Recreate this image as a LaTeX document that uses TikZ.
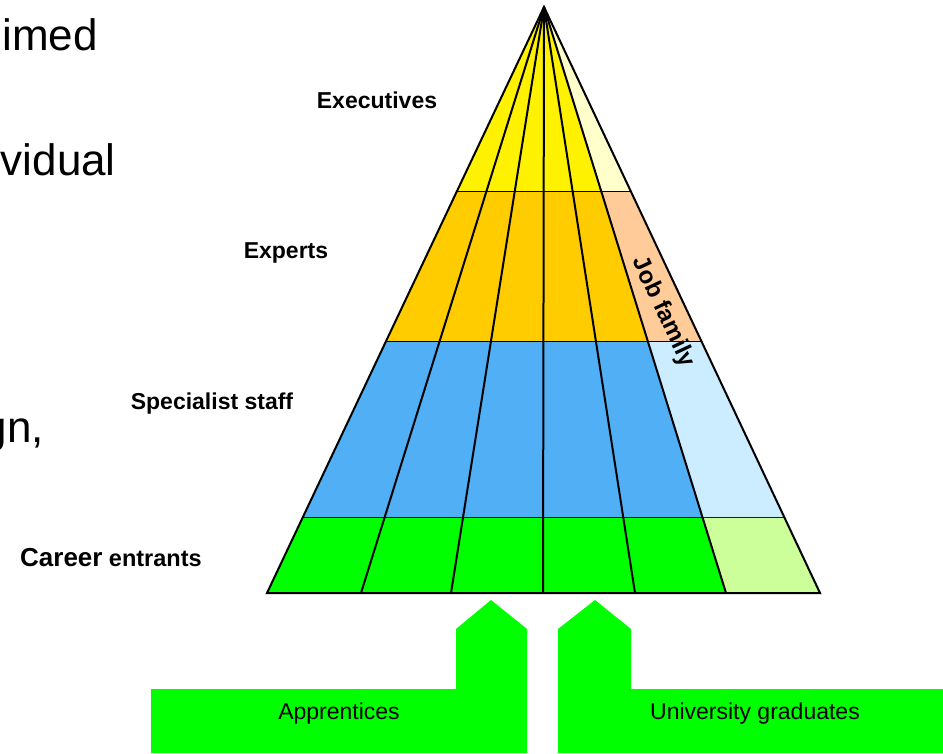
\documentclass[tikz,border=0pt]{standalone}
\usepackage{amsmath}
\usepackage{fontspec}
\setmainfont{Liberation Sans}
\usepackage{tikz}
\usetikzlibrary{calc}

\definecolor{paleyellow}{RGB}{255,255,204}
\definecolor{gold}{RGB}{255,204,0}
\definecolor{peach}{RGB}{255,204,153}
\definecolor{skyblue}{RGB}{80,175,245}
\definecolor{paleblue}{RGB}{204,236,255}
\definecolor{lime}{RGB}{0,255,0}
\definecolor{palegreen}{RGB}{204,255,153}

\tikzset{
  edge/.style={line width=2pt},
  bandline/.style={line width=1.5pt},
  level/.style={inner sep=0pt, font=\fontsize{23}{26}\selectfont\bfseries},
  entry/.style={inner sep=0pt, font=\fontsize{23}{26}\selectfont},
  slidetext/.style={inner sep=0pt, anchor=base east, font=\fontsize{44}{50}\selectfont}
}

\begin{document}
\begin{tikzpicture}[x=1pt,y=-1pt]
\useasboundingbox (0,0) rectangle (943,753);
\coordinate (A) at (544,7);
\foreach \i/\bx in {0/267,1/361,2/451,3/543,4/635,5/726,6/820}
  \coordinate (B\i) at (\bx,593);
\foreach \ta/\tb/\main/\light in {0/0.3157/yellow/paleyellow,0.3157/0.5717/gold/peach,0.5717/0.8720/skyblue/paleblue,0.8720/1/lime/palegreen}{
  \fill[\main] ($(A)!\ta!(B0)$) -- ($(A)!\tb!(B0)$) -- ($(A)!\tb!(B5)$) -- ($(A)!\ta!(B5)$) -- cycle;
  \fill[\light] ($(A)!\ta!(B5)$) -- ($(A)!\tb!(B5)$) -- ($(A)!\tb!(B6)$) -- ($(A)!\ta!(B6)$) -- cycle;
  \draw[bandline] ($(A)!\tb!(B0)$) -- ($(A)!\tb!(B6)$);
}
\foreach \i in {1,...,5}
  \draw[edge] (A) -- (B\i);
\draw[edge] (B0) -- (A) -- (B6) -- cycle;

\node[level] (exec) at (377,100) {Executives};
\node[level] (expert) at (286,253) {Experts};
\node[level] (special) at (212,404) {Specialist staff};
\node[level, anchor=base west] (entrant) at (20,566) {{\fontsize{26}{28}\selectfont Career} {\fontsize{23.5}{26}\selectfont entrants}};
\node[level, rotate=-64.8, font=\fontsize{24}{26}\selectfont\bfseries] (jobfam) at (663,312) {Job family};

\fill[lime] (151,689) -- (456,689) -- (456,629) -- (491,600) -- (527,629) -- (527,753) -- (151,753) -- cycle;
\fill[lime] (558,753) -- (558,629) -- (595,600) -- (631,629) -- (631,689) -- (943,689) -- (943,753) -- cycle;
\node[entry] (appr) at (339,714) {Apprentices};
\node[entry] (grad) at (755,714) {University graduates};

\node[slidetext] (frag1) at (98,50) {imed};
\node[slidetext] (frag2) at (116,175) {vidual};
\node[slidetext] (frag3) at (44,442) {gn,};
\end{tikzpicture}
\end{document}
